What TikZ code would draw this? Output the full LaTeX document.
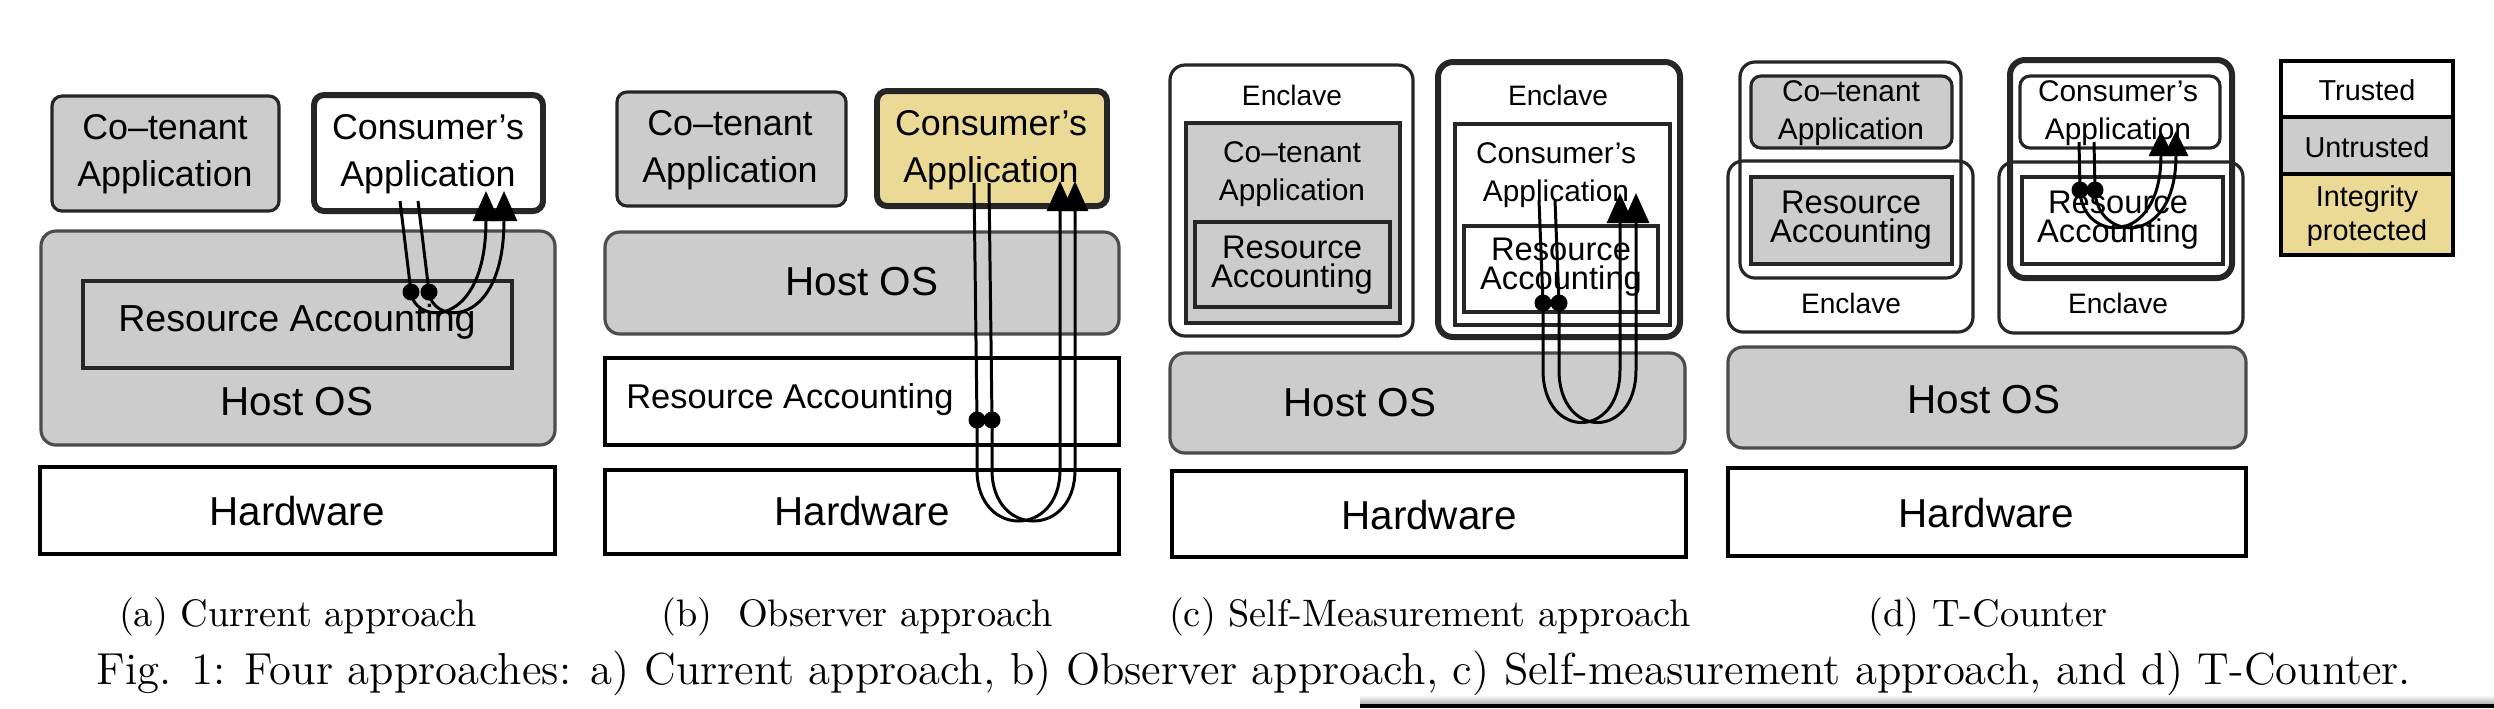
\documentclass[tikz,border=0pt]{standalone}
\usepackage{fontspec}
\setsansfont{Liberation Sans}
\usetikzlibrary{arrows.meta}
\definecolor{untrustgray}{RGB}{204,204,204}
\definecolor{integyellow}{RGB}{235,217,150}

\begin{document}
\begin{tikzpicture}[x=0.1mm,y=-0.1mm,
  box/.style={draw=black!85,line width=0.9pt},
  untrusted/.style={box,fill=untrustgray},
  trusted/.style={box,fill=white},
  protected/.style={box,fill=integyellow},
  thickbox/.style={line width=1.7pt},
  osbox/.style={untrusted,draw=black!70,rounded corners=1.5mm},
  appbox/.style={rounded corners=1mm},
  enclave/.style={box,rounded corners=1.5mm},
  usage/.style={line width=0.85pt,-{Triangle[length=3mm,width=2.6mm]}},
  bigtxt/.style={font=\sffamily\fontsize{11.5}{14}\selectfont},
  apptxt/.style={font=\sffamily\fontsize{10.2}{13.4}\selectfont,align=center},
  smalltxt/.style={font=\sffamily\fontsize{8.5}{11}\selectfont,align=center},
  ratxt/.style={font=\sffamily\fontsize{9.3}{8.2}\selectfont,align=center},
  enctxt/.style={font=\sffamily\fontsize{8}{10}\selectfont},
  legtxt/.style={font=\sffamily\fontsize{8.2}{9.8}\selectfont,align=center},
  subcap/.style={font=\fontsize{10.9}{13}\selectfont,anchor=base},
  figcap/.style={font=\fontsize{12.75}{15}\selectfont,anchor=base},
]
\path[use as bounding box,fill=white] (0,0) rectangle (2494,708);

% (a) current approach
\draw[untrusted,appbox] (52,96) rectangle (279,211);
\node[apptxt] (cot-a) at (165,154) {Co–tenant\\Application};
\draw[trusted,appbox,thickbox] (314,95) rectangle (543,211);
\node[apptxt] (con-a) at (428,154) {Consumer’s\\Application};
\draw[osbox] (41,231) rectangle (555,445);
\draw[untrusted] (83,281) rectangle (512,368);
\node[apptxt,font=\sffamily\fontsize{10.7}{13}\selectfont] (ra-a) at (297,322) {Resource Accounting};
\node[bigtxt] (os-a) at (297,402) {Host OS};
\draw[trusted,draw=black] (40,467) rectangle (555,554);
\node[bigtxt] (hw-a) at (297,511) {Hardware};

% (b) observer approach
\draw[untrusted,appbox] (617,92) rectangle (846,206);
\node[apptxt] (cot-b) at (730,150) {Co–tenant\\Application};
\draw[protected,appbox,thickbox] (877,91) rectangle (1107,206);
\node[apptxt] (con-b) at (991,150) {Consumer’s\\Application};
\draw[osbox] (605,232) rectangle (1119,334);
\node[bigtxt] (os-b) at (862,282) {Host OS};
\draw[trusted,draw=black] (605,358) rectangle (1119,445);
\node[apptxt,font=\sffamily\fontsize{9.8}{12}\selectfont] (ra-b) at (790,400) {Resource Accounting};
\draw[trusted,draw=black] (605,470) rectangle (1119,554);
\node[bigtxt] (hw-b) at (862,511) {Hardware};

% (c) self-measurement approach
\draw[enclave,fill=white] (1170,65) rectangle (1413,336);
\node[enctxt] (enc-c1) at (1292,95) {Enclave};
\draw[untrusted] (1186,123) rectangle (1400,323);
\node[smalltxt] (cot-c) at (1292,174) {Co–tenant\\Application};
\draw[untrusted] (1195,222) rectangle (1390,307);
\node[ratxt] (ra-c1) at (1292,265) {Resource\\Accounting};
\draw[enclave,thickbox,fill=white] (1438,62) rectangle (1680,337);
\node[enctxt] (enc-c2) at (1558,95) {Enclave};
\draw[trusted] (1455,124) rectangle (1670,325);
\node[smalltxt] (con-c) at (1556,175) {Consumer’s\\Application};
\draw[trusted] (1464,226) rectangle (1658,312);
\node[ratxt] (ra-c2) at (1561,267) {Resource\\Accounting};
\draw[osbox] (1170,353) rectangle (1685,453);
\node[bigtxt] (os-c) at (1360,403) {Host OS};
\draw[trusted,draw=black] (1172,471) rectangle (1686,557);
\node[bigtxt] (hw-c) at (1429,515) {Hardware};

% (d) T-Counter
\draw[enclave] (1740,62) rectangle (1961,278);
\draw[enclave] (1728,161) rectangle (1973,332);
\draw[untrusted,appbox] (1751,76) rectangle (1952,148);
\node[smalltxt] (cot-d) at (1851,113) {Co–tenant\\Application};
\draw[untrusted] (1751,177) rectangle (1952,264);
\node[ratxt] (ra-d1) at (1851,220) {Resource\\Accounting};
\node[enctxt] (enc-d1) at (1851,303) {Enclave};
\draw[enclave,thickbox] (2010,60) rectangle (2232,278);
\draw[enclave] (1999,162) rectangle (2243,333);
\draw[trusted,appbox] (2020,76) rectangle (2220,148);
\node[smalltxt] (con-d) at (2118,113) {Consumer’s\\Application};
\draw[trusted] (2022,177) rectangle (2223,264);
\node[ratxt] (ra-d2) at (2118,220) {Resource\\Accounting};
\node[enctxt] (enc-d2) at (2118,303) {Enclave};
\draw[osbox] (1728,347) rectangle (2246,448);
\node[bigtxt] (os-d) at (1984,400) {Host OS};
\draw[trusted,draw=black] (1728,468) rectangle (2246,556);
\node[bigtxt] (hw-d) at (1986,513) {Hardware};

% legend
\draw[trusted,draw=black] (2281,61) rectangle (2453,117);
\node[legtxt] (leg-t) at (2367,90) {Trusted};
\draw[untrusted,draw=black] (2281,117) rectangle (2453,174);
\node[legtxt] (leg-u) at (2367,147) {Untrusted};
\draw[protected,draw=black] (2281,174) rectangle (2453,255);
\node[legtxt] (leg-i) at (2367,216) {Integrity\\protected};

% accounting loops
\foreach \s [count=\i] in {0,18} {
  \coordinate (a-top-\i) at (400+\s,201);
  \coordinate (a-dot-\i) at (411+\s,292);
  \coordinate (a-tip-\i) at (486+\s,191);
  \draw[usage] (a-top-\i) -- (a-dot-\i) .. controls +(3,33) and +(0,139) .. (a-tip-\i);
  \fill (a-dot-\i) circle (0.85mm);
}
\foreach \s [count=\i] in {0,15} {
  \coordinate (b-top-\i) at (974+\s,183);
  \coordinate (b-dot-\i) at (977+\s,420);
  \coordinate (b-tip-\i) at (1060+\s,181);
  \draw[usage] (b-top-\i) -- (b-dot-\i) -- ++(0,50) .. controls +(0,68) and +(0,68) .. (1060+\s,470) -- (b-tip-\i);
  \fill (b-dot-\i) circle (0.85mm);
}
\foreach \s [count=\i] in {0,16} {
  \coordinate (c-top-\i) at (1539+\s,200);
  \coordinate (c-dot-\i) at (1543+\s,303);
  \coordinate (c-tip-\i) at (1620+\s,193);
  \draw[usage] (c-top-\i) -- (c-dot-\i) -- ++(0,67) .. controls +(0,70) and +(0,70) .. (1620+\s,370) -- (c-tip-\i);
  \fill (c-dot-\i) circle (0.85mm);
}
\foreach \s [count=\i] in {0,15} {
  \coordinate (d-top-\i) at (2079+\s,142);
  \coordinate (d-dot-\i) at (2080+\s,190);
  \coordinate (d-tip-\i) at (2161+\s,131);
  \draw[usage,-{Triangle[length=2.5mm,width=2.4mm]}] (d-top-\i) -- (d-dot-\i) .. controls +(1,52) and +(0,118) .. (d-tip-\i);
  \fill (d-dot-\i) circle (0.85mm);
}

% captions
\node[subcap] (cap-a) at (298,626) {(a) Current approach};
\node[subcap] (cap-b) at (857,626) {(b)\ \ Observer approach};
\node[subcap] (cap-c) at (1430,626) {(c) Self-Measurement approach};
\node[subcap] (cap-d) at (1988,626) {(d) T-Counter};
\node[figcap] (fig) at (1254,684) {Fig. 1: Four approaches: a) Current approach, b) Observer approach, c) Self-measurement approach, and d) T-Counter.};

% page edge shadow
\shade[top color=white,bottom color=black!30] (1360,695) rectangle (2494,704);
\fill[black] (1360,704) rectangle (2494,708);
\end{tikzpicture}
\end{document}
